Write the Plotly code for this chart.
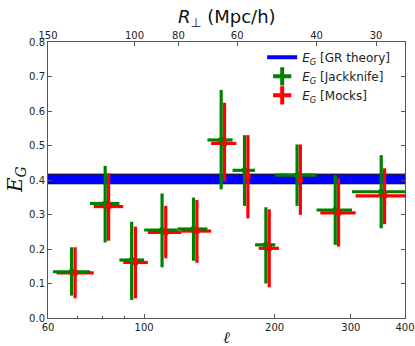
import math
import plotly.graph_objects as go

# ---- data ----
ell_jk = [68.0, 81.3, 93.6, 110.0, 130.0, 150.6, 170.5, 191.0, 225.4, 276.1, 352.5]
ell_jk_lo = [61.6, 75.0, 87.7, 100.0, 119.5, 140.0, 160.0, 180.3, 200.7, 250.0, 301.7]
ell_jk_hi = [75.0, 87.7, 100.0, 119.5, 140.0, 160.0, 180.3, 200.7, 250.0, 301.7, 405.0]
eg_jk = [0.134, 0.332, 0.168, 0.255, 0.258, 0.516, 0.428, 0.212, 0.414, 0.313, 0.366]
eg_jk_lo = [0.065, 0.219, 0.052, 0.147, 0.166, 0.373, 0.325, 0.100, 0.325, 0.212, 0.260]
eg_jk_hi = [0.205, 0.441, 0.279, 0.361, 0.349, 0.661, 0.530, 0.321, 0.503, 0.414, 0.472]

ell_mk = [69.3, 82.8, 95.5, 112.2, 132.4, 153.3, 173.6, 194.4, 229.4, 281.0, 358.8]
ell_mk_lo = [62.8, 76.5, 89.5, 102.0, 121.9, 142.8, 163.2, 183.9, 204.7, 255.0, 307.7]
ell_mk_hi = [76.5, 89.5, 102.0, 121.9, 142.8, 163.2, 183.9, 204.7, 255.0, 307.7, 413.0]
eg_mk = [0.131, 0.323, 0.161, 0.248, 0.252, 0.506, 0.410, 0.202, 0.400, 0.305, 0.354]
eg_mk_lo = [0.057, 0.224, 0.057, 0.173, 0.160, 0.395, 0.289, 0.089, 0.299, 0.207, 0.272]
eg_mk_hi = [0.205, 0.419, 0.265, 0.325, 0.342, 0.624, 0.530, 0.315, 0.503, 0.405, 0.434]

gr_ell = [60, 400]
gr_lo = [0.389, 0.389]
gr_hi = [0.417, 0.417]

ell_ticks = [60, 100, 200, 300, 400]
ell_minor = [70, 80, 90]
r_perp_labels = ["150", "100", "80", "60", "40", "30"]
r_perp_ell = [60, 95, 120, 164, 250, 343]

GREEN = "#008000"
RED = "#ff0000"
BLUE = "#0000ff"


def plus(v, hi):
    return [h - x for x, h in zip(v, hi)]


def minus(v, lo):
    return [x - l for x, l in zip(v, lo)]


fig = go.Figure()

# red horizontal bars (under the band)
fig.add_trace(go.Scatter(
    x=ell_mk, y=eg_mk, mode="markers", marker=dict(size=0, color=RED),
    error_x=dict(type="data", symmetric=False, array=plus(ell_mk, ell_mk_hi),
                 arrayminus=minus(ell_mk, ell_mk_lo), color=RED, thickness=3.2, width=0),
    showlegend=False, hoverinfo="skip"))

# GR band
fig.add_trace(go.Scatter(x=gr_ell, y=gr_lo, mode="lines",
                         line=dict(color="black", width=1), showlegend=False, hoverinfo="skip"))
fig.add_trace(go.Scatter(x=gr_ell, y=gr_hi, mode="lines", fill="tonexty", fillcolor=BLUE,
                         line=dict(color="black", width=1), showlegend=False, hoverinfo="skip"))

# green crosses
fig.add_trace(go.Scatter(
    x=ell_jk, y=eg_jk, mode="markers", marker=dict(size=0, color=GREEN),
    error_x=dict(type="data", symmetric=False, array=plus(ell_jk, ell_jk_hi),
                 arrayminus=minus(ell_jk, ell_jk_lo), color=GREEN, thickness=3.2, width=0),
    error_y=dict(type="data", symmetric=False, array=plus(eg_jk, eg_jk_hi),
                 arrayminus=minus(eg_jk, eg_jk_lo), color=GREEN, thickness=3.2, width=0),
    showlegend=False, hoverinfo="skip"))

# red vertical bars
fig.add_trace(go.Scatter(
    x=ell_mk, y=eg_mk, mode="markers", marker=dict(size=0, color=RED),
    error_y=dict(type="data", symmetric=False, array=plus(eg_mk, eg_mk_hi),
                 arrayminus=minus(eg_mk, eg_mk_lo), color=RED, thickness=3.2, width=0),
    showlegend=False, hoverinfo="skip"))

# legend entries
fig.add_trace(go.Scatter(x=[None], y=[None], mode="lines", line=dict(color=BLUE, width=4),
                         name="<i>E<sub>G</sub></i> [GR theory]"))
fig.add_trace(go.Scatter(x=[None], y=[None], mode="markers",
                         marker=dict(symbol="cross-thin", size=13, line=dict(color=GREEN, width=4)),
                         name="<i>E<sub>G</sub></i> [Jackknife]"))
fig.add_trace(go.Scatter(x=[None], y=[None], mode="markers",
                         marker=dict(symbol="cross-thin", size=13, line=dict(color=RED, width=4)),
                         name="<i>E<sub>G</sub></i> [Mocks]"))

# top axis carrier
fig.add_trace(go.Scatter(x=r_perp_ell, y=[None] * len(r_perp_ell), xaxis="x2", yaxis="y",
                         mode="markers", showlegend=False, hoverinfo="skip"))

xr = [math.log10(60), math.log10(400)]
AX = "#555555"
TICKF = dict(family="DejaVu Sans", size=10, color="#222222")

fig.update_layout(
    width=415, height=346,
    margin=dict(l=48, r=10, t=42, b=28, autoexpand=False),
    plot_bgcolor="white", paper_bgcolor="white",
    xaxis=dict(type="log", range=xr, tickvals=ell_ticks, ticktext=[str(v) for v in ell_ticks],
               ticks="inside", ticklen=4, tickcolor=AX, showline=True, linecolor=AX, linewidth=1,
               mirror=True, showgrid=False, zeroline=False, tickfont=TICKF, automargin=False,
               minor=dict(tickvals=ell_minor, ticks="inside", ticklen=2, tickcolor=AX)),
    xaxis2=dict(type="log", range=xr, overlaying="x", side="top", anchor="y",
                tickvals=r_perp_ell, ticktext=r_perp_labels, ticks="inside", ticklen=4,
                tickcolor=AX, showline=False, showgrid=False, zeroline=False, tickfont=TICKF,
                automargin=False),
    yaxis=dict(range=[0, 0.8], tickvals=[i / 10 for i in range(9)], tickformat=".1f",
               ticks="inside", ticklen=4, tickcolor=AX, showline=True, linecolor=AX, linewidth=1,
               mirror="ticks", showgrid=False, zeroline=False, tickfont=TICKF, automargin=False),
    legend=dict(x=0.6, y=0.997, xanchor="left", yanchor="top", bgcolor="rgba(0,0,0,0)",
                traceorder="normal",
                font=dict(family="DejaVu Sans", size=12, color="#222222"),
                tracegroupgap=0, itemwidth=30),
    annotations=[
        dict(text="<i>R</i><sub>⊥</sub> (Mpc/h)", xref="paper", yref="paper", x=0.5, y=1,
             yshift=24, xanchor="center", yanchor="middle", showarrow=False,
             font=dict(family="DejaVu Sans", size=18, color="#111111")),
        dict(text="<i>E<sub>G</sub></i>", xref="paper", yref="paper", x=0, y=0.5,
             xshift=-32, xanchor="center", yanchor="middle", showarrow=False, textangle=-90,
             font=dict(family="DejaVu Serif", size=20, color="#111111")),
        dict(text="<i>ℓ</i>", xref="paper", yref="paper", x=0.5, y=0, yshift=-19,
             xanchor="center", yanchor="middle", showarrow=False,
             font=dict(family="DejaVu Serif", size=16, color="#111111")),
    ],
)

fig.write_html("out.html",
               config={"displayModeBar": False, "staticPlot": True},
               post_script="document.body.style.margin='0';document.body.style.overflow='hidden';")
